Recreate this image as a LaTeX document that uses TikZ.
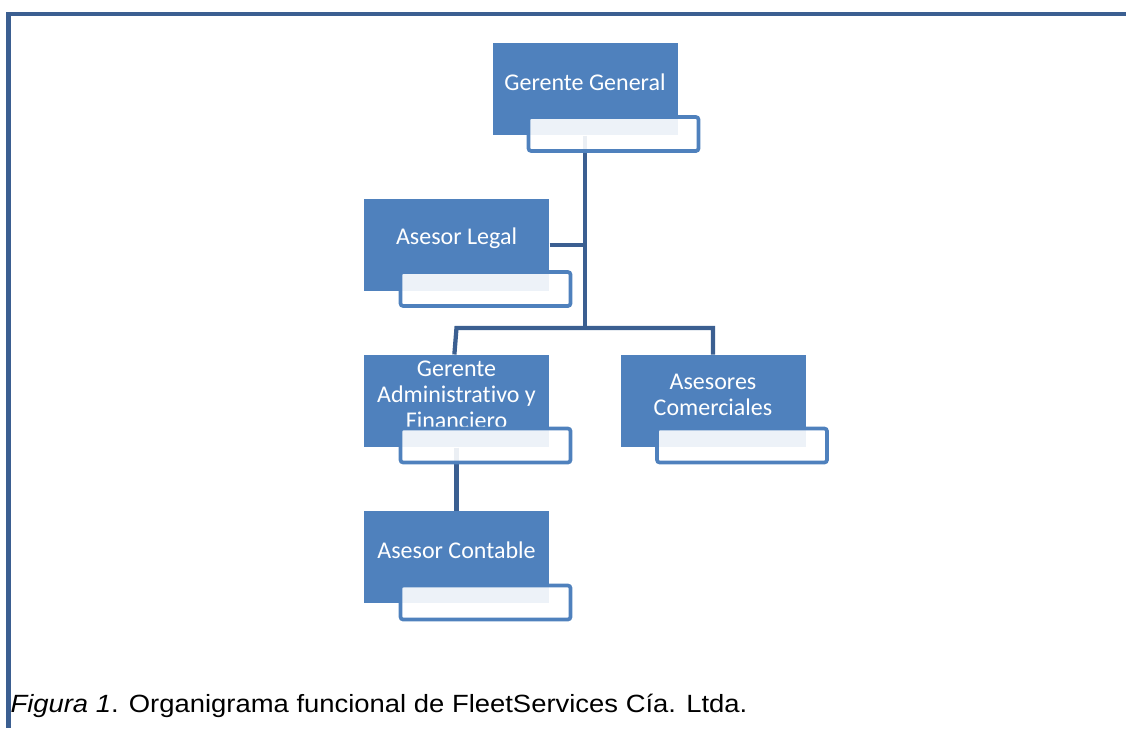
\documentclass[tikz,border=0pt]{standalone}
\usepackage{fontspec}
\setmainfont{Liberation Sans}
\newfontfamily\cargofont[Ligatures=NoCommon]{Carlito}

\definecolor{cargoblue}{RGB}{79,129,189}
\definecolor{enlaceblue}{RGB}{59,95,145}

\tikzset{every picture/.style={line width=0.75pt}}
\tikzset{
	cargo/.style={fill=cargoblue, inner sep=0pt, minimum width=138.75pt, minimum height=69pt},
	subcargo/.style={draw=cargoblue, line width=2.8pt, rounded corners=2pt, fill=white, fill opacity=0.9, inner sep=0pt, minimum width=127.5pt, minimum height=25.5pt},
	cargotxt/.style={text=white, inner sep=0pt, align=center, font=\cargofont\fontsize{18}{19.5}\selectfont},
	enlace/.style={draw=enlaceblue, line width=3.2pt},
	marco/.style={draw=enlaceblue, line width=3.4pt}
}

\begin{document}
\begin{tikzpicture}[x=0.75pt,y=0.75pt,yscale=-1,xscale=1]
	\useasboundingbox (0,0) rectangle (1126,728);
	
	%Frame
	\draw [marco] (1126,14) -- (8.5,14) -- (8.5,728) ;
	
	%Boxes
	\node [cargo] (gg) at (585,89) {};
	\node [cargo] (al) at (456.5,245) {};
	\node [cargo] (gaf) at (456.5,401) {};
	\node [cargo] (ac) at (713,401) {};
	\node [cargo] (acon) at (456.5,557) {};
	
	% Text Node
	\node [cargotxt] (gg-t) at (585,82.5) {Gerente General};
	% Text Node
	\node [cargotxt] (al-t) at (456.5,238.5) {Asesor Legal};
	% Text Node
	\node [cargotxt] (gaf-t) at (456.5,395) {Gerente\\Administrativo y\\Financiero};
	% Text Node
	\node [cargotxt] (ac-t) at (713,394.5) {Asesores\\Comerciales};
	% Text Node
	\node [cargotxt] (acon-t) at (456.5,550.5) {Asesor Contable};
	
	%Connectors
	\coordinate (bus) at (585,328) ;
	\coordinate (bus-l) at (456.5,328) ;
	\coordinate (bus-r) at (713,328) ;
	\draw [enlace] (gg.south) -- (bus) ;
	\draw [enlace] (al.east) -- (al.east -| bus) ;
	\draw [enlace] ([xshift=-1.6pt]bus-l |- gaf.north) -- (bus-l) -- (bus-r) -- (bus-r |- ac.north) ;
	\draw [enlace] (gaf.south) -- (acon.north) ;
	
	%Lower boxes
	\node [subcargo] (gg-s) at (613.5,134) {};
	\node [subcargo] (al-s) at (485.5,289) {};
	\node [subcargo] (gaf-s) at (485.5,445.5) {};
	\node [subcargo] (ac-s) at (742,445.5) {};
	\node [subcargo] (acon-s) at (485.5,602.5) {};
	
	% Text Node
	\node [anchor=base west, inner sep=0pt, font=\fontsize{18.7}{20}\selectfont] (pie) at (10,712) {\scalebox{1.1}[1]{\textit{Figura 1}. Organigrama funcional de FleetServices Cía. Ltda.}};
	
\end{tikzpicture}
\end{document}
